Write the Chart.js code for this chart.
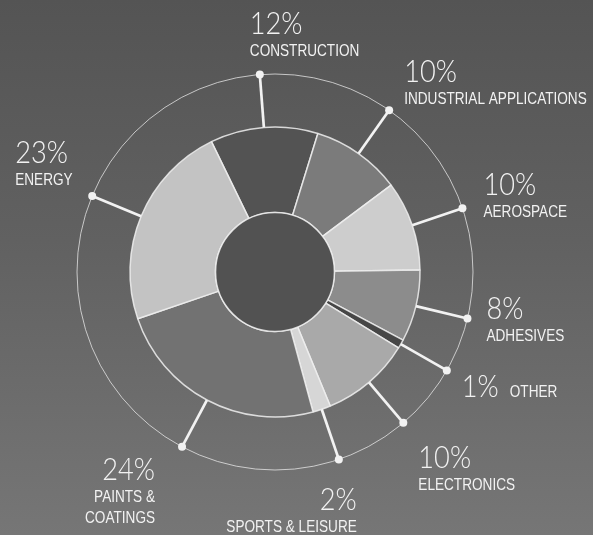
<!DOCTYPE html>
<html>
<head>
<meta charset="utf-8">
<script src="https://cdn.jsdelivr.net/npm/chart.js@4.4.1/dist/chart.umd.min.js"></script>
<style>
	html, body { margin: 0; padding: 0; }
	body {
		width: 593px; height: 535px; overflow: hidden;
		background: linear-gradient(to bottom, #545454 0%, #616161 45%, #767676 100%);
	}
	#wrap { position: relative; width: 593px; height: 535px; }
</style>
</head>
<body>
<div id="wrap"><canvas id="mycanvas" width="593" height="535"></canvas></div>
<script>
// market share by end use, clockwise from CONSTRUCTION
var sectors = ["CONSTRUCTION", "INDUSTRIAL APPLICATIONS", "AEROSPACE", "ADHESIVES", "OTHER", "ELECTRONICS", "SPORTS & LEISURE", "PAINTS &\nCOATINGS", "ENERGY"];
var shares = [12, 10, 10, 8, 1, 10, 2, 24, 23];
var fills = ["#535353", "#7b7b7b", "#cdcdcd", "#8c8c8c", "#474747", "#a9a9a9", "#d6d6d6", "#727272", "#c3c3c3"];

// where each label sits relative to its dot: [dx, dy, align]
var labelPlace = [
	[-10, -41, "left"],
	[15, -28, "left"],
	[21, -13, "left"],
	[19, 0, "left"],
	[15, 27, "inline"],
	[15, 45, "left"],
	[18, 51, "right"],
	[-27, 33, "right"],
	[-77, -33, "left"]
];

var RING = 198;

// draws squeezed text, returns its drawn width
function narrowText(ctx, txt, font, sx, x, y, align) {
	ctx.save();
	ctx.font = font;
	ctx.textBaseline = "alphabetic";
	ctx.textAlign = "left";
	var w = ctx.measureText(txt).width * sx;
	var left = align == "right" ? x - w : x;
	ctx.translate(left, y);
	ctx.scale(sx, 1);
	ctx.fillText(txt, 0, 0);
	ctx.restore();
	return w;
}

var PCT_FONT = "300 32px Lato, 'DejaVu Sans', sans-serif";
var NAME_FONT = "17px 'Liberation Sans', Arial, sans-serif";

var leaders = {
	id: "leaders",
	afterDatasetsDraw: function(chart) {
		var ctx = chart.ctx;
		var arcs = chart.getDatasetMeta(0).data;
		var cx = arcs[0].x, cy = arcs[0].y;
		var inner = arcs[0].innerRadius, outer = arcs[0].outerRadius;

		ctx.save();
		// hole, with its light rim
		ctx.fillStyle = "#525252";
		ctx.strokeStyle = "rgba(240,240,240,0.85)";
		ctx.lineWidth = 1.5;
		ctx.beginPath();
		ctx.arc(cx, cy, inner, 0, Math.PI * 2);
		ctx.fill();
		ctx.stroke();

		// thin outer ring
		ctx.strokeStyle = "rgba(235,235,235,0.75)";
		ctx.lineWidth = 1;
		ctx.beginPath();
		ctx.arc(cx, cy, RING, 0, Math.PI * 2);
		ctx.stroke();

		ctx.fillStyle = "#f2f2f2";
		ctx.strokeStyle = "#f2f2f2";
		for (var i = 0; i < arcs.length; i++) {
			var a = (arcs[i].startAngle + arcs[i].endAngle) / 2;
			var x0 = cx + outer * Math.cos(a), y0 = cy + outer * Math.sin(a);
			var x1 = cx + RING * Math.cos(a), y1 = cy + RING * Math.sin(a);
			ctx.lineWidth = 2.7;
			ctx.beginPath();
			ctx.moveTo(x0, y0);
			ctx.lineTo(x1, y1);
			ctx.stroke();
			ctx.beginPath();
			ctx.arc(x1, y1, 4, 0, Math.PI * 2);
			ctx.fill();

			// label
			var p = labelPlace[i];
			var lx = x1 + p[0], ly = y1 + p[1];
			var align = p[2] == "right" ? "right" : "left";
			var w = narrowText(ctx, shares[i] + "%", PCT_FONT, 0.85, lx, ly, align);
			if (p[2] == "inline") {
				narrowText(ctx, sectors[i], NAME_FONT, 0.8, lx + w + 11, ly, "left");
			} else {
				var lines = sectors[i].split("\n");
				for (var k = 0; k < lines.length; k++) {
					narrowText(ctx, lines[k], NAME_FONT, 0.8, lx, ly + 22 + k * 21, align);
				}
			}
		}
		ctx.restore();
	}
};

var ctx = document.getElementById("mycanvas");

var DonutGraph = new Chart(ctx, {
	type: "doughnut",
	data: {
		labels: sectors,
		datasets: [{
			data: shares,
			backgroundColor: fills,
			borderColor: "rgba(240,240,240,0.85)",
			borderWidth: 1.5
		}]
	},
	options: {
		responsive: false,
		animation: false,
		rotation: -26,
		radius: 145,
		cutout: "41%",
		layout: { padding: { left: 0, right: 43, top: 9, bottom: 0 } },
		plugins: {
			legend: { display: false },
			tooltip: { enabled: false }
		}
	},
	plugins: [leaders]
});
</script>
</body>
</html>
